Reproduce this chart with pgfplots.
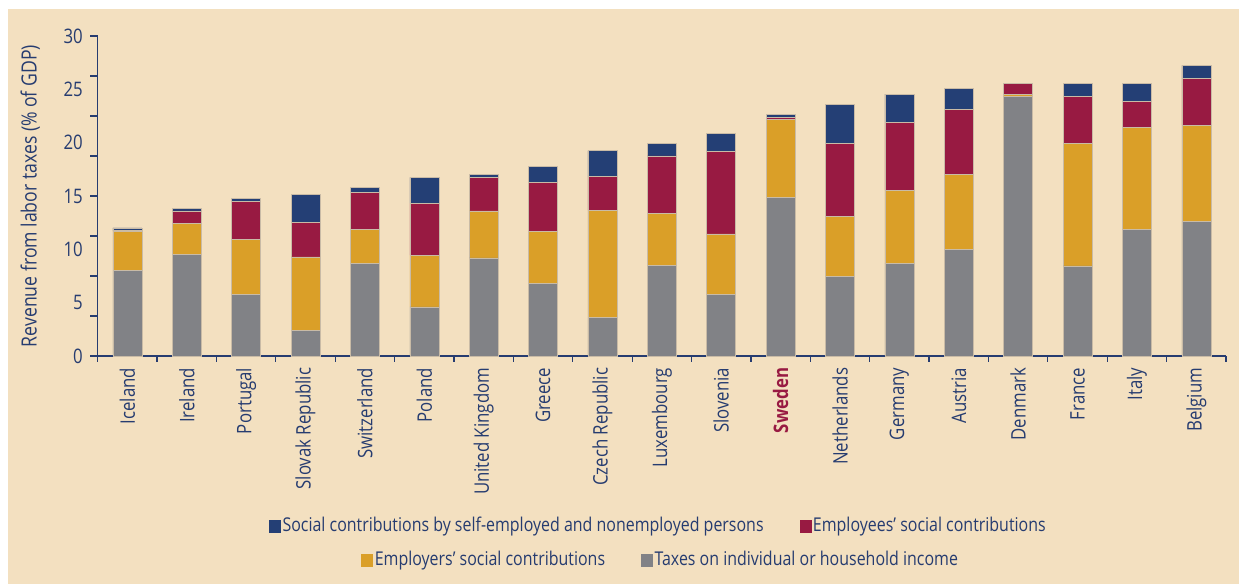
\documentclass[border=0pt]{standalone}
\usepackage{fontspec}
\setmainfont{Open Sans}[FakeStretch=0.84]
\usepackage{pgfplots}
\usepackage{pgfplotstable}
\pgfplotsset{compat=1.18}

\definecolor{bg}{HTML}{F3E0C0}
\definecolor{txt}{HTML}{263C70}
\definecolor{cGray}{HTML}{818286}
\definecolor{cYel}{HTML}{DA9F28}
\definecolor{cRed}{HTML}{981A42}
\definecolor{cBlue}{HTML}{243F75}
\definecolor{edge}{HTML}{C9BBA6}

% labour tax revenue, % of GDP
\pgfplotstableread{
idx gray  yel   red   blue
0   8.0   3.7   0.05  0.25
1   9.5   2.9   1.2   0.2
2   5.8   5.1   3.6   0.25
3   2.4   6.9   3.2   2.65
4   8.7   3.2   3.45  0.45
5   4.6   4.85  4.85  2.45
6   9.2   4.4   3.15  0.25
7   6.8   4.9   4.6   1.5
8   3.6   10.05 3.15  2.45
9   8.5   4.9   5.35  1.2
10  5.8   5.65  7.75  1.7
11  14.85 7.3   0.22  0.25
12  7.5   5.6   6.8   3.65
13  8.7   6.85  6.35  2.65
14  10.0  7.05  6.1   1.95
15  24.3  0.25  1.0   0
16  8.45  11.5  4.4   1.2
17  11.9  9.5   2.45  1.7
18  12.6  9.05  4.4   1.2
}\labtax

\begin{document}
\fontsize{20}{24}\selectfont
\begin{tikzpicture}[x=1pt, y=1pt, font=\fontsize{20}{24}\selectfont]
\fill[white] (0,0) rectangle (1239,584);
\fill[bg] (8,0) rectangle (1239,575);

\begin{axis}[
    at={(97.7pt,228pt)}, anchor=south west,
    scale only axis, width=1128.3pt, height=320pt,
    ybar stacked, bar width=29pt,
    xmin=-0.5, xmax=18.5, ymin=0, ymax=30,
    axis lines*=left,
    axis line style={txt, line width=1.2pt},
    tick pos=left, tick align=outside,
    tick style={txt, line width=1.2pt},
    major tick length=0pt,
    minor tick length=7.5pt,
    xtick={0,...,18},
    xticklabels={Iceland, Ireland, Portugal, Slovak Republic, Switzerland,
        Poland, United Kingdom, Greece, Czech Republic, Luxembourg, Slovenia,
        {\textcolor{cRed}{\bfseries Sweden}}, Netherlands, Germany, Austria,
        Denmark, France, Italy, Belgium},
    extra x ticks={-0.5,0.5,...,18.5},
    extra x tick labels={},
    extra x tick style={major tick length=5.5pt},
    ytick={0,5,...,30},
    minor ytick={0,3.75,...,30},
    tick label style={text=txt, font=\fontsize{20}{24}\selectfont},
    /pgf/number format/assume math mode=true,
    xticklabel style={rotate=90, anchor=east},
    xticklabel shift=5pt,
    yticklabel shift=8pt,
    every axis y label/.style={at={(axis description cs:-0.0511,0.5)},
        rotate=90, anchor=south, inner sep=0pt, text=txt,
        font=\fontsize{21}{25}\selectfont},
    ylabel={Revenue from labor taxes (\% of GDP)},
]
\addplot[fill=cGray, draw=edge, line width=0.6pt] table[x=idx, y=gray]{\labtax};
\addplot[fill=cYel, draw=edge, line width=0.6pt] table[x=idx, y=yel]{\labtax};
\addplot[fill=cRed, draw=edge, line width=0.6pt] table[x=idx, y=red]{\labtax};
\addplot[fill=cBlue, draw=edge, line width=0.6pt] table[x=idx, y=blue]{\labtax};
\end{axis}

% legend, first row
\begin{axis}[
    at={(97.7pt,228pt)}, anchor=south west,
    scale only axis, width=1128.3pt, height=320pt,
    hide axis, xmin=0, xmax=1, ymin=0, ymax=1,
    legend columns=2,
    legend cell align=left,
    legend image code/.code={\fill[#1] (0pt,-6pt) rectangle (11pt,6pt);},
    legend style={at={(0.497,-0.531)}, anchor=center, draw=none, fill=none,
        text=txt, nodes={inner sep=2pt}, font=\fontsize{19}{23}\selectfont,
        /tikz/every even column/.append style={column sep=34pt}},
]
\addlegendimage{cBlue}
\addlegendentry{Social contributions by self-employed and nonemployed persons}
\addlegendimage{cRed}
\addlegendentry{Employees’ social contributions}
\end{axis}

% legend, second row
\begin{axis}[
    at={(97.7pt,228pt)}, anchor=south west,
    scale only axis, width=1128.3pt, height=320pt,
    hide axis, xmin=0, xmax=1, ymin=0, ymax=1,
    legend columns=2,
    legend cell align=left,
    legend image code/.code={\fill[#1] (0pt,-6pt) rectangle (11pt,6pt);},
    legend style={at={(0.499,-0.6375)}, anchor=center, draw=none, fill=none,
        text=txt, nodes={inner sep=2pt}, font=\fontsize{19}{23}\selectfont,
        /tikz/every even column/.append style={column sep=34pt}},
]
\addlegendimage{cYel}
\addlegendentry{Employers’ social contributions}
\addlegendimage{cGray}
\addlegendentry{Taxes on individual or household income}
\end{axis}
\end{tikzpicture}
\end{document}
